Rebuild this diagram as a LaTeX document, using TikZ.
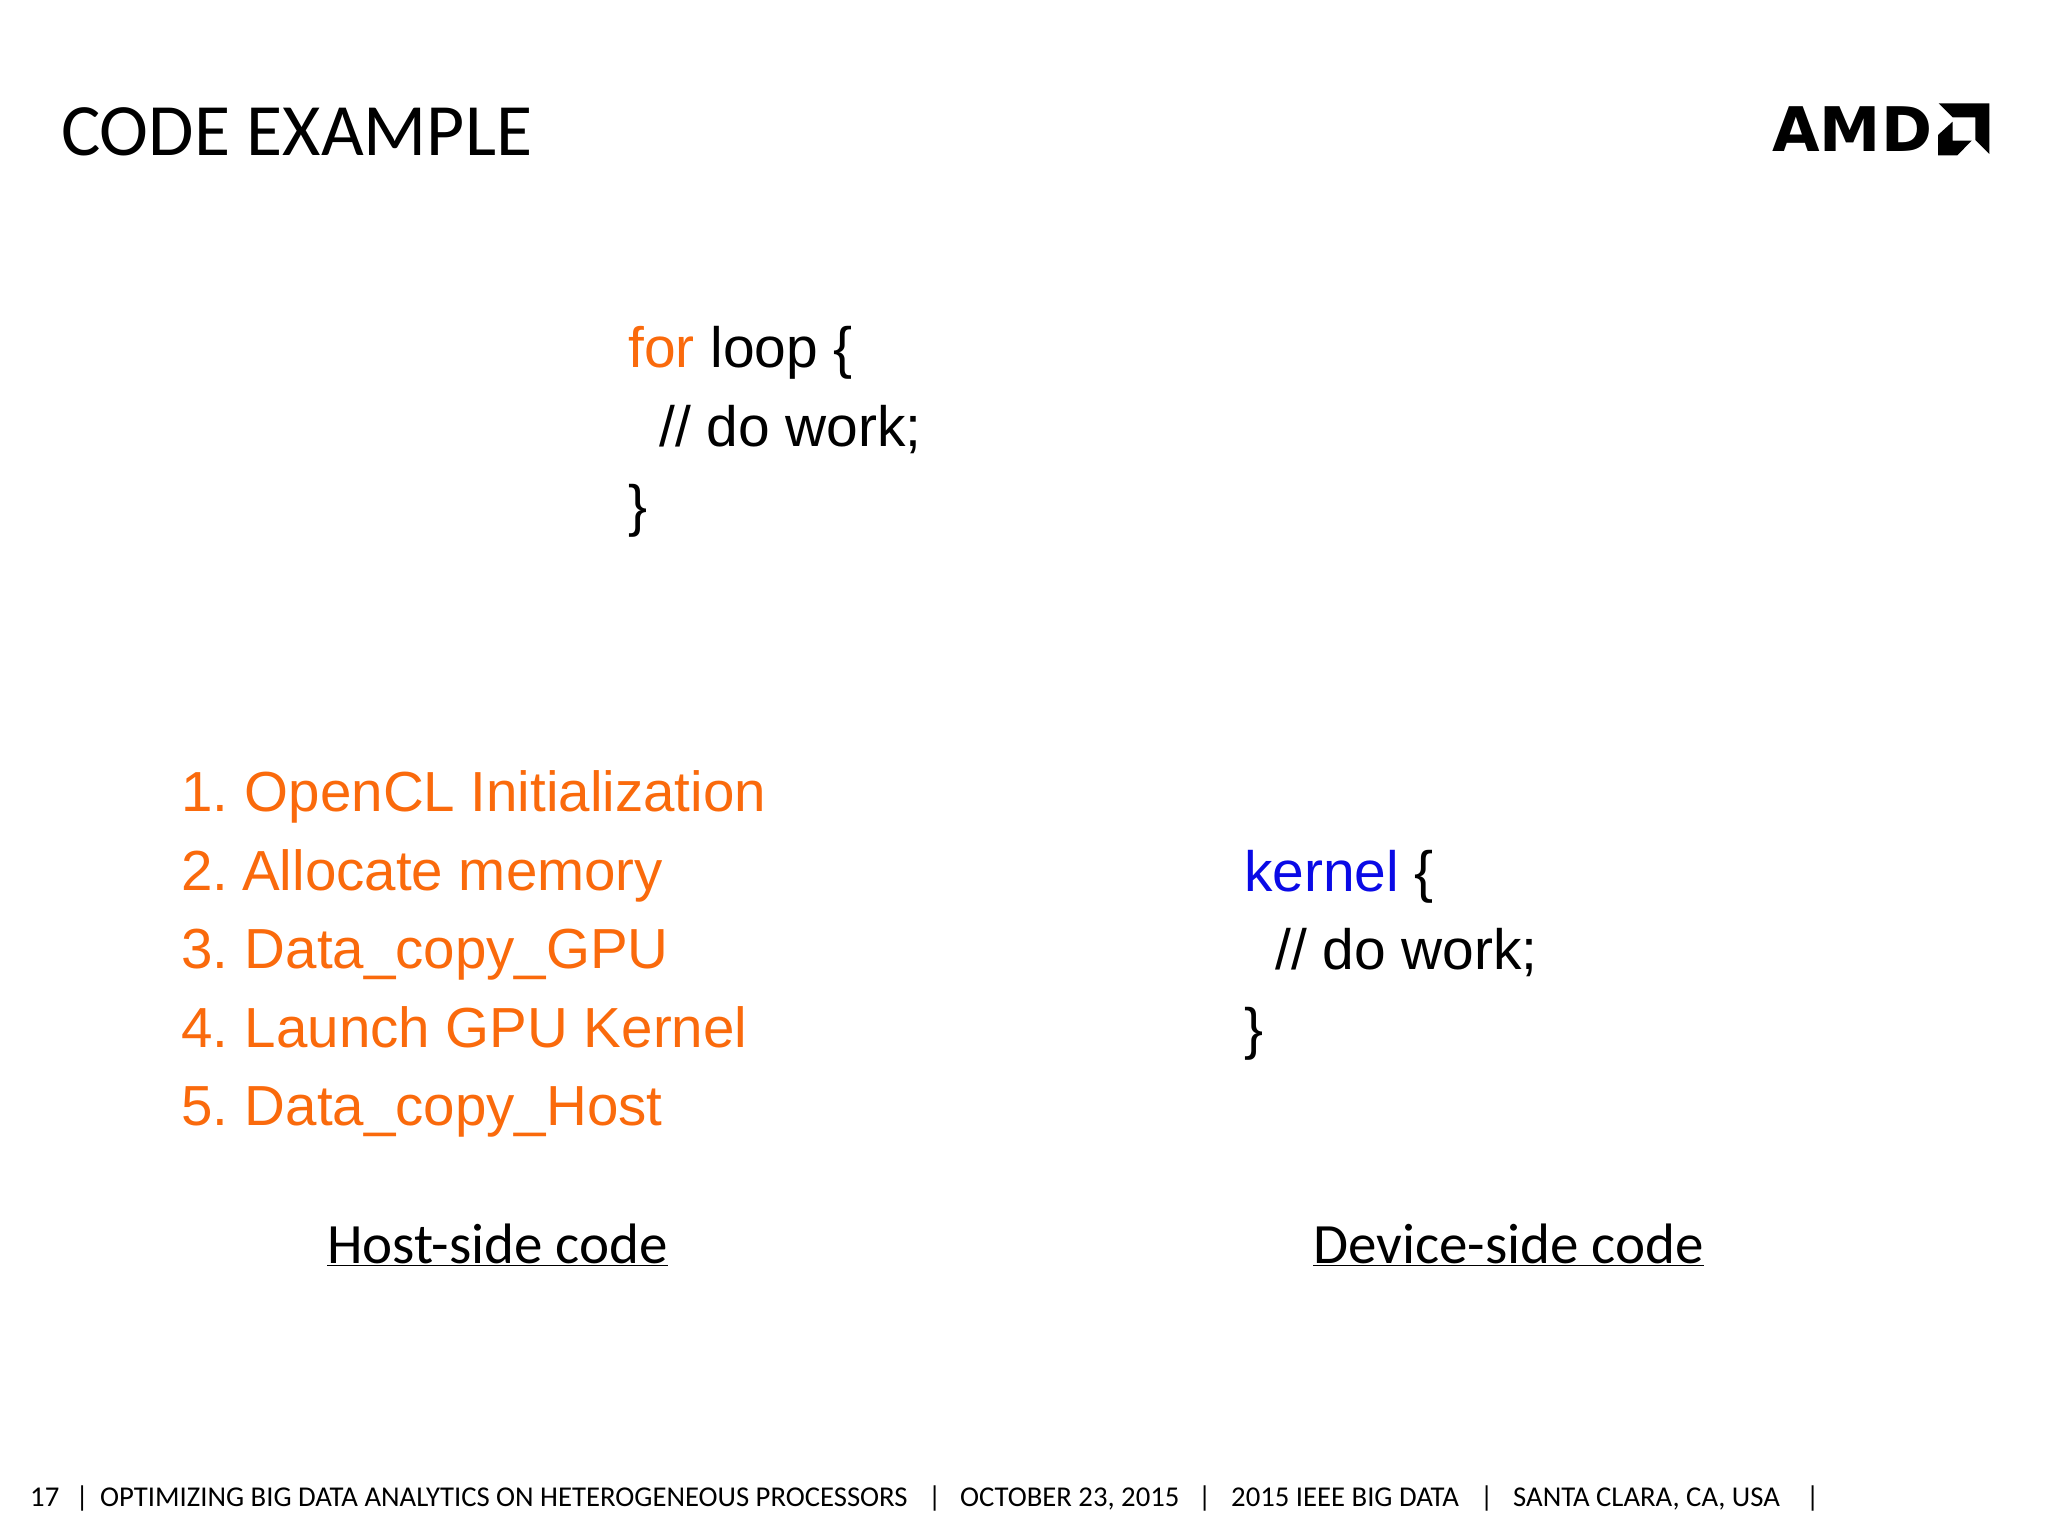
\documentclass[tikz,border=0pt]{standalone}
\usepackage{fontspec}
\setmainfont{Liberation Sans}
\newfontfamily\slidefont{Carlito}
\newfontfamily\logofont{DejaVu Sans}
\definecolor{amdorange}{RGB}{250,106,12}
\definecolor{kwblue}{RGB}{10,10,230}
\tikzset{
  codeline/.style={anchor=base west, inner sep=0pt, font=\fontsize{56.9}{60}\selectfont},
  stepline/.style={anchor=base west, inner sep=0pt, text=amdorange, font=\fontsize{56.5}{60}\selectfont},
  slidetext/.style={anchor=base west, inner sep=0pt, font=\slidefont\fontsize{73.8}{80}\selectfont},
  sidelabel/.style={anchor=base west, inner sep=0pt, font=\slidefont\fontsize{57}{60}\selectfont},
  footline/.style={anchor=base west, inner sep=0pt, font=\slidefont\fontsize{28.7}{32}\selectfont}
}
\begin{document}
\begin{tikzpicture}[x=1pt, y=-1pt]
\useasboundingbox (0,0) rectangle (2048,1536);
\node (title)[slidetext] at (61,156) {CODE EXAMPLE};
% logo
\node (logo)[anchor=base west, inner sep=0pt, font=\logofont\bfseries\fontsize{61.5}{60}\selectfont] at (1772,151) {AMD};
\begin{scope}[shift={(1740,80)}, scale=0.3333]
\fill (596,70) -- (748,70) -- (748,222) -- (706,180) -- (706,112) -- (638,112) -- cycle;
\fill (594,165) -- (638,125) -- (638,182) -- (695,182) -- (652,226) -- (594,226) -- cycle;
\end{scope}
% top code
\node (for)[codeline] at (628,367) {\textcolor{amdorange}{for} loop \{};
\node (work)[codeline] at (659,446) {// do work;};
\node (close)[codeline] at (628,525) {\}};
% host steps
\node (s1)[stepline] at (181,811) {1.\hspace{16.5pt}OpenCL Initialization};
\node (s2)[stepline] at (181,890) {2.\hspace{14pt}Allocate memory};
\node (s3)[stepline] at (181,968) {3.\hspace{16.5pt}Data\_copy\_GPU};
\node (s4)[stepline] at (181,1047) {4.\hspace{16.5pt}Launch GPU Kernel};
\node (s5)[stepline] at (181,1125) {5.\hspace{16.5pt}Data\_copy\_Host};
% kernel
\node (kernel)[codeline] at (1244,891) {\textcolor{kwblue}{kernel} \{};
\node (kwork)[codeline] at (1275,969) {// do work;};
\node (kclose)[codeline] at (1244,1048) {\}};
% labels
\node (host)[sidelabel] at (327,1263) {\underline{Host-side code}};
\node (device)[sidelabel] at (1313,1263) {\underline{Device-side code}};
% footer
\node (page)[footline] at (30,1506) {17};
\node (bar1)[footline] at (75.5,1506) {|};
\node (talk)[footline] at (100,1506) {OPTIMIZING BIG DATA ANALYTICS ON HETEROGENEOUS PROCESSORS};
\node (bar2)[footline] at (928,1506) {|};
\node (date)[footline] at (960,1506) {OCTOBER 23, 2015};
\node (bar3)[footline] at (1198,1506) {|};
\node (conf)[footline] at (1231,1506) {2015 IEEE BIG DATA};
\node (bar4)[footline] at (1480,1506) {|};
\node (place)[footline] at (1513,1506) {SANTA CLARA, CA, USA};
\node (bar5)[footline] at (1806,1506) {|};
\end{tikzpicture}
\end{document}
